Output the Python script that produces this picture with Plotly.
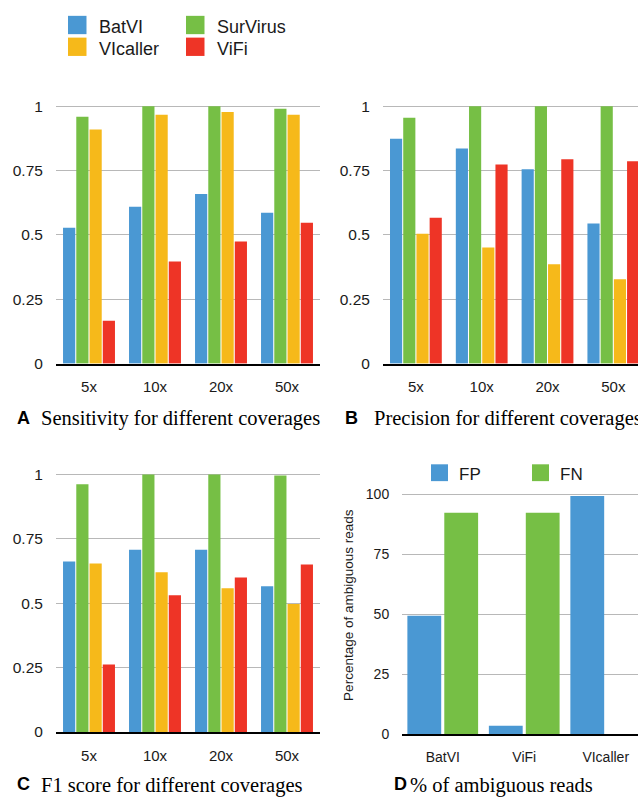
import plotly.graph_objects as go

W, H = 638, 799

# ---- data ----
coverages = ["5x", "10x", "20x", "50x"]
tools = ["BatVI", "SurVirus", "VIcaller", "ViFi"]
tool_colors = ["#4A98D3", "#76BF45", "#F6B91A", "#EE3426"]

sensitivity = {
    "BatVI":    [0.528, 0.609, 0.659, 0.586],
    "SurVirus": [0.959, 1.000, 1.000, 0.990],
    "VIcaller": [0.910, 0.967, 0.978, 0.967],
    "ViFi":     [0.167, 0.397, 0.474, 0.547],
}
precision = {
    "BatVI":    [0.874, 0.836, 0.755, 0.544],
    "SurVirus": [0.955, 1.000, 1.000, 1.000],
    "VIcaller": [0.505, 0.451, 0.386, 0.328],
    "ViFi":     [0.567, 0.774, 0.794, 0.786],
}
f1_score = {
    "BatVI":    [0.662, 0.708, 0.708, 0.566],
    "SurVirus": [0.962, 1.000, 1.000, 0.996],
    "VIcaller": [0.654, 0.620, 0.558, 0.497],
    "ViFi":     [0.262, 0.531, 0.600, 0.650],
}

amb_tools = ["BatVI", "ViFi", "VIcaller"]
amb_fp = [49.4, 3.6, 99.3]
amb_fn = [92.3, 92.3, 0.0]
amb_labels = ["FP", "FN"]
amb_colors = ["#4A98D3", "#76BF45"]

score_ticks = [0, 0.25, 0.5, 0.75, 1]
score_ticktext = ["0", "0.25", "0.5", "0.75", "1"]
pct_ticks = [0, 25, 50, 75, 100]

captions = [
    ("A", "Sensitivity for different coverages"),
    ("B", "Precision for different coverages"),
    ("C", "F1 score for different coverages"),
    ("D", "% of ambiguous reads"),
]


def px(x):
    return x / W


def py(y):
    return 1 - y / H


SANS = "Liberation Sans, Arial, Helvetica, sans-serif"
SERIF = "Liberation Serif, Times New Roman, serif"
GRID = "#b8b8b8"
TXT = "#1a1a1a"

fig = go.Figure()

panels = [
    (sensitivity, "x", "y"),
    (precision, "x2", "y2"),
    (f1_score, "x3", "y3"),
]
for data, xa, ya in panels:
    for name, col in zip(tools, tool_colors):
        fig.add_trace(go.Bar(
            x=coverages, y=data[name], name=name, xaxis=xa, yaxis=ya,
            marker=dict(color=col, line=dict(width=0)), showlegend=False,
        ))

# panel D: two bars per tool with explicit widths
fig.add_trace(go.Bar(x=amb_tools, y=amb_fp, name=amb_labels[0], xaxis="x4", yaxis="y4",
                     marker=dict(color=amb_colors[0], line=dict(width=0)),
                     width=0.415, offset=-0.434, showlegend=False))
fig.add_trace(go.Bar(x=amb_tools, y=amb_fn, name=amb_labels[1], xaxis="x4", yaxis="y4",
                     marker=dict(color=amb_colors[1], line=dict(width=0)),
                     width=0.415, offset=0.019, showlegend=False))


def xaxis_cfg(domain, rng, anchor, fsize):
    return dict(domain=domain, range=rng, anchor=anchor, type="category",
                showgrid=False, showline=True, linecolor="#000", linewidth=1.5,
                ticks="outside", ticklen=9, tickcolor="rgba(0,0,0,0)",
                tickfont=dict(family=SANS, size=fsize, color=TXT), fixedrange=True)


def yaxis_cfg(domain, rng, anchor, tickvals, ticktext, fsize):
    return dict(domain=domain, range=rng, anchor=anchor,
                tickvals=tickvals, ticktext=ticktext,
                showgrid=True, gridcolor=GRID, gridwidth=1, zeroline=False,
                showline=False, ticks="outside", ticklen=9,
                tickcolor="rgba(0,0,0,0)",
                tickfont=dict(family=SANS, size=fsize, color=TXT), fixedrange=True)


# plot-area geometry (pixels)
top_y0, top_y1 = 367.3, 94.3     # value 0 and top of range (1.05)
bot_y0, bot_y1 = 739.3, 466.3
d_y0, d_y1 = 741.7, 487.2        # 0 and 105

fig.update_layout(
    width=W, height=H, margin=dict(l=0, r=0, t=0, b=0),
    paper_bgcolor="white", plot_bgcolor="white",
    barmode="group", bargap=0.197, bargroupgap=0.08,
    showlegend=False,
    xaxis=xaxis_cfg([px(56), px(320)], [-0.5, 3.5], "y", 15),
    yaxis=yaxis_cfg([py(top_y0), py(top_y1)], [0, 1.05], "x", score_ticks, score_ticktext, 15.5),
    xaxis2=xaxis_cfg([px(383), 1.0], [-0.5, 3.375], "y2", 15),
    yaxis2=yaxis_cfg([py(top_y0), py(top_y1)], [0, 1.05], "x2", score_ticks, score_ticktext, 15.5),
    xaxis3=xaxis_cfg([px(56), px(320)], [-0.5, 3.5], "y3", 15),
    yaxis3=yaxis_cfg([py(bot_y0), py(bot_y1)], [0, 1.05], "x3", score_ticks, score_ticktext, 15.5),
    xaxis4=xaxis_cfg([px(402), 1.0], [-0.5, 2.396], "y4", 14),
    yaxis4=yaxis_cfg([py(d_y0), py(d_y1)], [0, 105], "x4", pct_ticks,
                     [str(v) for v in pct_ticks], 14),
)

shapes = []
annotations = []

# top legend (2 x 2)
leg_pos = [(68, 16), (186, 16), (68, 38), (186, 38)]
for (lx, ly), name, col in zip(leg_pos, tools, tool_colors):
    shapes.append(dict(type="rect", xref="paper", yref="paper",
                       x0=px(lx), x1=px(lx + 18.5), y0=py(ly + 18.5), y1=py(ly),
                       fillcolor=col, line=dict(width=0)))
    annotations.append(dict(xref="paper", yref="paper", x=px(lx + 29), y=py(ly + 11),
                            text=name, showarrow=False, xanchor="left", yanchor="middle",
                            font=dict(family=SANS, size=18, color=TXT)))

# panel D legend
for lx, name, col in zip([431, 532], amb_labels, amb_colors):
    shapes.append(dict(type="rect", xref="paper", yref="paper",
                       x0=px(lx), x1=px(lx + 17), y0=py(486), y1=py(469),
                       fillcolor=col, line=dict(width=0)))
    annotations.append(dict(xref="paper", yref="paper", x=px(lx + 26), y=py(479),
                            text=name, showarrow=False, xanchor="left", yanchor="middle",
                            font=dict(family=SANS, size=17, color=TXT)))

# panel D y-axis title
annotations.append(dict(xref="paper", yref="paper", x=px(349), y=py(611),
                        text="Percentage of ambiguous reads", textangle=-90,
                        showarrow=False, xanchor="center", yanchor="middle",
                        font=dict(family=SANS, size=13.5, color=TXT)))

# panel captions
cap_pos = [(15, 39, 423), (343, 372, 423), (15, 39, 793), (392, 408, 793)]
for (lx, tx, cy), (letter, text) in zip(cap_pos, captions):
    annotations.append(dict(xref="paper", yref="paper", x=px(lx), y=py(cy - 1),
                            text="<b>%s</b>" % letter, showarrow=False,
                            xanchor="left", yanchor="middle",
                            font=dict(family=SANS, size=18, color="#000")))
    annotations.append(dict(xref="paper", yref="paper", x=px(tx), y=py(cy),
                            text=text, showarrow=False,
                            xanchor="left", yanchor="middle",
                            font=dict(family=SERIF, size=20.5, color="#000")))

fig.update_layout(shapes=shapes, annotations=annotations)

fig.write_html("out.html", config={"displayModeBar": False})
